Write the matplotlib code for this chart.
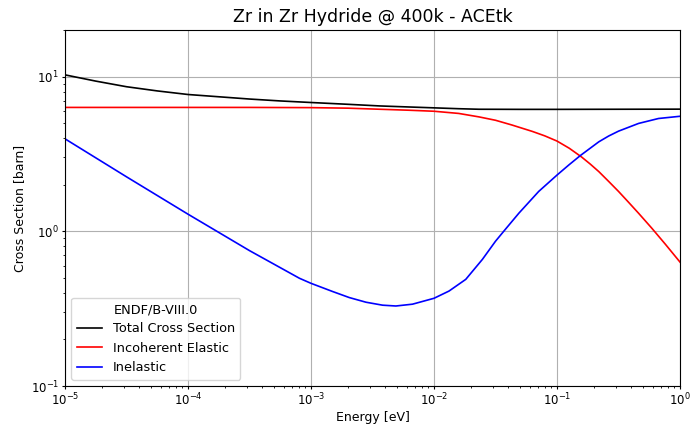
import numpy as np
import matplotlib
matplotlib.use("Agg")
import matplotlib.pyplot as plt

# Values; energies given as log10(E / eV)
total_log_e = [-5, -4.75, -4.5, -4.25, -4, -3.5, -3.25, -3, -2.7, -2.44, -2.2, -2, -1.8,
               -1.635, -1.3, -1.0, -0.5, 0]
total_xs = [10.26, 9.35, 8.6, 8.08, 7.66, 7.16, 6.96, 6.8, 6.62, 6.46, 6.36, 6.28, 6.2,
            6.15, 6.14, 6.14, 6.15, 6.16]

elastic_log_e = [-5, -4, -3.5, -3, -2.7, -2.44, -2.2, -2, -1.8, -1.635, -1.5, -1.365,
                 -1.2, -1.1, -1.0, -0.9, -0.8, -0.73, -0.66, -0.58, -0.5, -0.42,
                 -0.337, -0.229, -0.12, 0]
incoherent_elastic = [6.32, 6.32, 6.32, 6.3, 6.25, 6.15, 6.06, 5.97, 5.78, 5.49, 5.22, 4.86,
                      4.42, 4.14, 3.83, 3.44, 3.02, 2.72, 2.43, 2.10, 1.81, 1.545,
                      1.308, 1.046, 0.826, 0.632]

inelastic_log_e = [-5, -4.5, -4, -3.5, -3.094, -3.0, -2.824, -2.689, -2.553, -2.418, -2.31,
                   -2.175, -2.0, -1.878, -1.742, -1.607, -1.5, -1.42, -1.31, -1.149,
                   -1.0, -0.905, -0.81, -0.66, -0.58, -0.5, -0.337, -0.175, 0]
inelastic = [3.96, 2.25, 1.29, 0.75, 0.497, 0.461, 0.408, 0.373, 0.348, 0.333, 0.329,
             0.338, 0.369, 0.411, 0.489, 0.658, 0.863, 1.03, 1.31, 1.81,
             2.31, 2.68, 3.09, 3.79, 4.13, 4.44, 4.98, 5.36, 5.54]

series_labels = ["Total Cross Section", "Incoherent Elastic", "Inelastic"]
legend_title = "ENDF/B-VIII.0"

fig = plt.figure(figsize=(6.93, 4.24), dpi=100)
ax = fig.add_axes([0.0938, 0.0896, 0.8875, 0.8396])

ax.plot(10.0 ** np.array(total_log_e), total_xs, color="black", lw=1.2,
        label=series_labels[0])
ax.plot(10.0 ** np.array(elastic_log_e), incoherent_elastic, color="red", lw=1.2,
        label=series_labels[1])
ax.plot(10.0 ** np.array(inelastic_log_e), inelastic, color="blue", lw=1.2,
        label=series_labels[2])

ax.set_xscale("log")
ax.set_yscale("log")
ax.set_xlim(1e-5, 1)
ax.set_ylim(0.1, 20)
ax.grid(True, which="major", color="#b0b0b0", lw=0.8)
ax.set_axisbelow(True)
ax.tick_params(axis="both", which="major", labelsize=8.5, length=2.5, pad=1.8)
ax.tick_params(axis="both", which="minor", length=1.6)

ax.set_title("Zr in Zr Hydride @ 400k - ACEtk", fontsize=12.5)
ax.set_xlabel("Energy [eV]", fontsize=9, labelpad=2)
ax.set_ylabel("Cross Section [barn]", fontsize=9, labelpad=3)
ax.legend(title=legend_title, loc="lower left", fontsize=9.3, title_fontsize=9.3)

fig.savefig("out.png", dpi=100)
